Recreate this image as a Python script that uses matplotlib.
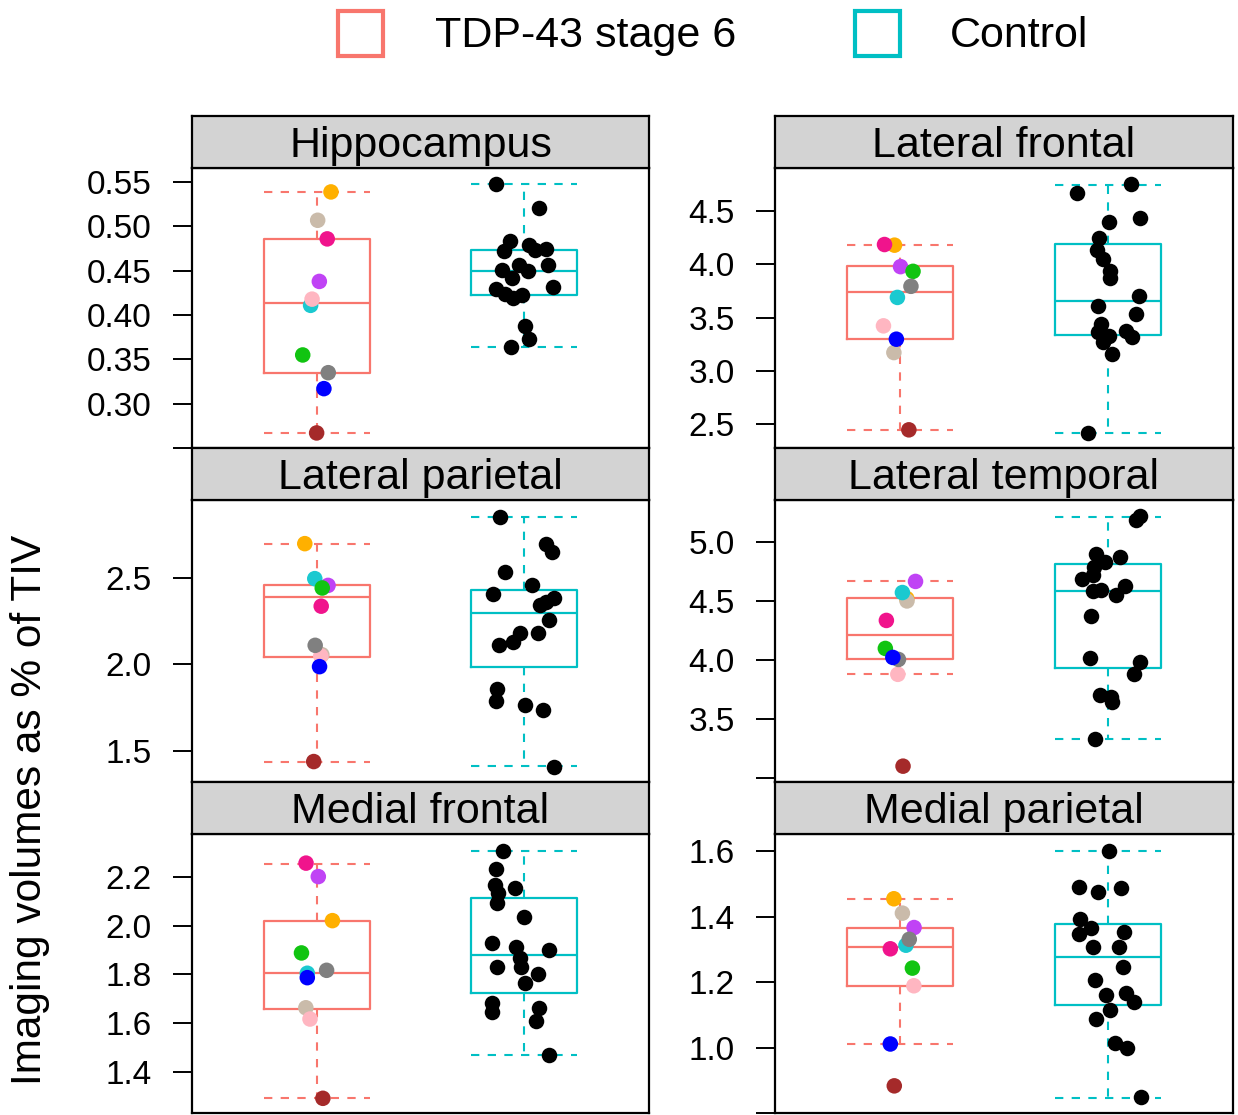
import numpy as np
import matplotlib.pyplot as plt
from matplotlib.patches import Rectangle

plt.rcParams['font.family'] = ['Liberation Sans', 'DejaVu Sans']

# legend / groups
groups = ['TDP-43 stage 6', 'Control']
group_colors = ['#F8766D', '#00BFC4']

# one colour per stage 6 case, same order in every panel
s6_colors = ['#FFB000', '#CABBAA', '#F0148C', '#C043F5', '#1BC9D0',
             '#FFB6C1', '#11C411', '#808080', '#0000FF', '#A52A2A']

regions = ['Hippocampus', 'Lateral frontal', 'Lateral parietal',
           'Lateral temporal', 'Medial frontal', 'Medial parietal']

# ---- Hippocampus
hip_s6 = [0.539, 0.507, 0.486, 0.438, 0.411, 0.418, 0.355, 0.335, 0.317, 0.267]
hip_s6_dx = [0.069, 0.005, 0.051, 0.013, -0.029, -0.022, -0.067, 0.056, 0.035, 0.0]
hip_ctrl = [0.548, 0.521, 0.484, 0.472, 0.479, 0.474, 0.475, 0.457, 0.457, 0.450,
            0.451, 0.442, 0.432, 0.430, 0.424, 0.419, 0.423, 0.388, 0.373, 0.364]
hip_ctrl_dx = [-0.138, 0.072, -0.069, -0.098, 0.022, 0.050, 0.104, 0.112, -0.024, 0.019,
               -0.109, -0.059, 0.136, -0.136, -0.091, -0.055, -0.011, 0.003, 0.024, -0.063]
hip_s6_box = [0.267, 0.335, 0.414, 0.486, 0.539]
hip_ctrl_box = [0.364, 0.423, 0.450, 0.473, 0.548]
hip_ticks = [0.25, 0.30, 0.35, 0.40, 0.45, 0.50, 0.55]
hip_labels = ['', '0.30', '0.35', '0.40', '0.45', '0.50', '0.55']
hip_ylim = (0.250, 0.566)

# ---- Lateral frontal
lf_s6 = [4.178, 3.173, 4.184, 3.977, 3.689, 3.423, 3.933, 3.793, 3.298, 2.450]
lf_s6_dx = [-0.026, -0.029, -0.074, 0.003, -0.012, -0.079, 0.063, 0.053, -0.017, 0.043]
lf_ctrl = [4.663, 4.747, 4.394, 4.434, 4.246, 4.134, 4.046, 3.940, 3.871, 3.702,
           3.608, 3.533, 3.439, 3.361, 3.326, 3.273, 3.373, 3.314, 3.164, 2.422]
lf_ctrl_dx = [-0.149, 0.108, 0.002, 0.152, -0.045, -0.053, -0.024, 0.010, 0.007, 0.149,
              -0.048, 0.135, -0.036, -0.050, 0.002, -0.024, 0.087, 0.116, 0.019, -0.096]
lf_s6_box = [2.450, 3.298, 3.743, 3.980, 4.181]
lf_ctrl_box = [2.422, 3.333, 3.652, 4.190, 4.744]
lf_ticks = [2.5, 3.0, 3.5, 4.0, 4.5]
lf_labels = ['2.5', '3.0', '3.5', '4.0', '4.5']
lf_ylim = (2.28, 4.90)

# ---- Lateral parietal
lp_s6 = [2.696, 2.055, 2.335, 2.455, 2.494, 2.048, 2.440, 2.109, 1.986, 1.438]
lp_s6_dx = [-0.057, 0.025, 0.022, 0.055, -0.009, 0.020, 0.027, -0.007, 0.014, -0.014]
lp_ctrl = [2.851, 2.696, 2.647, 2.535, 2.455, 2.407, 2.380, 2.359, 2.343, 2.254,
           2.178, 2.180, 2.130, 2.110, 1.857, 1.787, 1.766, 1.733, 1.409]
lp_ctrl_dx = [-0.115, 0.105, 0.134, -0.095, 0.036, -0.153, 0.141, 0.103, 0.077, 0.117,
              0.064, -0.022, -0.055, -0.124, -0.134, -0.136, 0.005, 0.091, 0.143]
lp_s6_box = [1.438, 2.039, 2.388, 2.455, 2.696]
lp_ctrl_box = [1.411, 1.985, 2.293, 2.426, 2.849]
lp_ticks = [1.5, 2.0, 2.5]
lp_labels = ['1.5', '2.0', '2.5']
lp_ylim = (1.32, 2.948)

# ---- Lateral temporal
lt_s6 = [4.522, 4.502, 4.337, 4.667, 4.573, 3.881, 4.100, 4.007, 4.024, 3.104]
lt_s6_dx = [0.033, 0.034, -0.065, 0.075, 0.012, -0.010, -0.070, -0.007, -0.034, 0.015]
lt_ctrl = [5.222, 5.191, 4.903, 4.875, 4.835, 4.792, 4.718, 4.687, 4.596, 4.582,
           4.627, 4.550, 4.374, 4.015, 3.984, 3.884, 3.702, 3.685, 3.648, 3.335]
lt_ctrl_dx = [0.152, 0.135, -0.057, 0.057, -0.015, -0.068, -0.072, -0.125, -0.033, -0.072,
              0.082, 0.036, -0.084, -0.087, 0.152, 0.123, -0.038, 0.014, 0.019, -0.063]
lt_s6_box = [3.881, 4.007, 4.217, 4.525, 4.667]
lt_ctrl_box = [3.335, 3.933, 4.590, 4.815, 5.213]
lt_ticks = [3.0, 3.5, 4.0, 4.5, 5.0]
lt_labels = ['', '3.5', '4.0', '4.5', '5.0']
lt_ylim = (2.97, 5.356)

# ---- Medial frontal
mf_s6 = [2.020, 1.664, 2.255, 2.200, 1.805, 1.618, 1.888, 1.817, 1.787, 1.294]
mf_s6_dx = [0.076, -0.052, -0.051, 0.008, -0.045, -0.032, -0.073, 0.048, -0.045, 0.030]
mf_ctrl = [2.306, 2.230, 2.165, 2.132, 2.155, 2.091, 2.036, 1.930, 1.911, 1.899,
           1.866, 1.832, 1.829, 1.801, 1.764, 1.682, 1.647, 1.662, 1.609, 1.471]
mf_ctrl_dx = [-0.102, -0.135, -0.140, -0.126, -0.044, -0.131, -0.001, -0.158, -0.040, 0.121,
              -0.021, -0.015, -0.131, 0.066, 0.001, -0.156, -0.156, 0.069, 0.057, 0.121]
mf_s6_box = [1.294, 1.660, 1.805, 2.020, 2.253]
mf_ctrl_box = [1.471, 1.723, 1.881, 2.113, 2.305]
mf_ticks = [1.4, 1.6, 1.8, 2.0, 2.2]
mf_labels = ['1.4', '1.6', '1.8', '2.0', '2.2']
mf_ylim = (1.234, 2.374)

# ---- Medial parietal
mp_s6 = [1.455, 1.411, 1.302, 1.367, 1.313, 1.189, 1.243, 1.331, 1.011, 0.883]
mp_s6_dx = [-0.029, 0.012, -0.046, 0.068, 0.029, 0.067, 0.060, 0.045, -0.046, -0.027]
mp_ctrl = [1.601, 1.490, 1.476, 1.487, 1.394, 1.366, 1.348, 1.353, 1.309, 1.309,
           1.245, 1.206, 1.160, 1.167, 1.138, 1.115, 1.088, 1.015, 0.998, 0.848]
mp_ctrl_dx = [0.002, -0.140, -0.050, 0.063, -0.137, -0.084, -0.142, 0.077, -0.072, 0.051,
              0.072, -0.063, -0.012, 0.086, 0.123, 0.007, -0.060, 0.034, 0.092, 0.158]
mp_s6_box = [1.011, 1.189, 1.307, 1.367, 1.455]
mp_ctrl_box = [0.845, 1.129, 1.278, 1.379, 1.601]
mp_ticks = [0.8, 1.0, 1.2, 1.4, 1.6]
mp_labels = ['', '1.0', '1.2', '1.4', '1.6']
mp_ylim = (0.80, 1.653)

panels = [
    (hip_s6, hip_s6_dx, hip_ctrl, hip_ctrl_dx, hip_s6_box, hip_ctrl_box, hip_ticks, hip_labels, hip_ylim),
    (lf_s6, lf_s6_dx, lf_ctrl, lf_ctrl_dx, lf_s6_box, lf_ctrl_box, lf_ticks, lf_labels, lf_ylim),
    (lp_s6, lp_s6_dx, lp_ctrl, lp_ctrl_dx, lp_s6_box, lp_ctrl_box, lp_ticks, lp_labels, lp_ylim),
    (lt_s6, lt_s6_dx, lt_ctrl, lt_ctrl_dx, lt_s6_box, lt_ctrl_box, lt_ticks, lt_labels, lt_ylim),
    (mf_s6, mf_s6_dx, mf_ctrl, mf_ctrl_dx, mf_s6_box, mf_ctrl_box, mf_ticks, mf_labels, mf_ylim),
    (mp_s6, mp_s6_dx, mp_ctrl, mp_ctrl_dx, mp_s6_box, mp_ctrl_box, mp_ticks, mp_labels, mp_ylim),
]

W, H = 1238, 1115
fig = plt.figure(figsize=(W / 100, H / 100), dpi=100)


def fbox(x0, y0, x1, y1):
    # pixel box (top-left origin) -> figure fraction rect
    return [x0 / W, 1 - y1 / H, (x1 - x0) / W, (y1 - y0) / H]


col_x = [(192, 649), (775, 1233)]
row_y = [(116, 168, 448), (448, 500, 782), (782, 834, 1113)]
box_w = 0.51

for i, (s6, s6_dx, ctrl, ctrl_dx, s6_box, ctrl_box, ticks, labels, ylim) in enumerate(panels):
    r, c = divmod(i, 2)
    x0, x1 = col_x[c]
    st, pt, pb = row_y[r]

    ax = fig.add_axes(fbox(x0, pt, x1, pb))
    for k, (stats, col) in enumerate(zip([s6_box, ctrl_box], group_colors)):
        st_d = dict(whislo=stats[0], q1=stats[1], med=stats[2], q3=stats[3], whishi=stats[4])
        ax.bxp([st_d], positions=[k + 1], widths=box_w, capwidths=box_w, showfliers=False,
               boxprops=dict(color=col, lw=1.6),
               medianprops=dict(color=col, lw=1.6),
               whiskerprops=dict(color=col, lw=1.5, ls=(0, (4, 4))),
               capprops=dict(color=col, lw=1.5, ls=(0, (4, 4))))
    ax.scatter(1 + np.array(s6_dx), s6, s=125, c=s6_colors, linewidths=0, zorder=3)
    ax.scatter(2 + np.array(ctrl_dx), ctrl, s=125, c='black', linewidths=0, zorder=3)

    ax.set_xlim(0.4, 2.6)
    ax.set_ylim(*ylim)
    ax.set_xticks([])
    ax.set_yticks(ticks)
    ax.set_yticklabels(labels)
    ax.tick_params(axis='y', direction='out', length=14, width=1.4, pad=15, labelsize=24)
    for sp in ax.spines.values():
        sp.set_linewidth(1.6)

    sax = fig.add_axes(fbox(x0, st, x1, pt))
    sax.set_facecolor('#D3D3D3')
    sax.set_xticks([])
    sax.set_yticks([])
    for sp in sax.spines.values():
        sp.set_linewidth(1.6)
    sax.text(0.5, 0.43, regions[i], ha='center', va='center', fontsize=31,
             transform=sax.transAxes)

# legend
leg_sq_x = [338, 855]
leg_tx_x = [435, 950]
for lab, col, sx, tx in zip(groups, group_colors, leg_sq_x, leg_tx_x):
    fig.add_artist(Rectangle((sx / W, 1 - 56 / H), 45 / W, 45 / H, transform=fig.transFigure,
                             facecolor='white', edgecolor=col, lw=3))
    fig.text(tx / W, 1 - 36 / H, lab, ha='left', va='center', fontsize=31)

fig.text(30 / W, 1 - 810 / H, 'Imaging volumes as % of TIV', rotation=90,
         ha='center', va='center', fontsize=30.5)

fig.savefig('out.png', dpi=100)
